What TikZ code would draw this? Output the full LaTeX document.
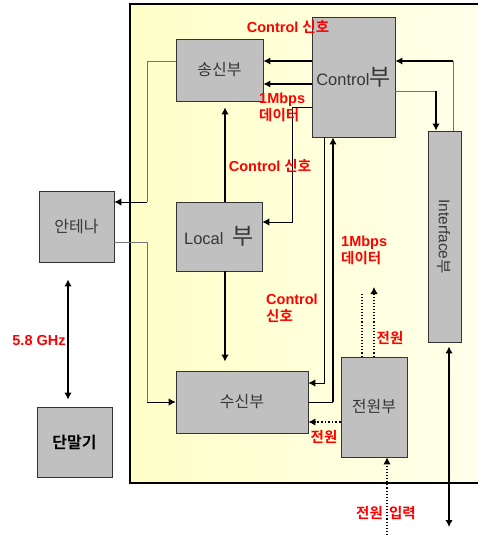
\documentclass[tikz,border=0pt]{standalone}
\usepackage{fontspec}
\setmainfont{Liberation Sans}
\newfontfamily\kr{Noto Sans CJK KR}[BoldFont={Noto Sans CJK KR Bold}]
\usetikzlibrary{arrows.meta, positioning}

\definecolor{boxgray}{RGB}{192,192,192}
\definecolor{panelyel}{RGB}{255,255,200}
\definecolor{panelwht}{RGB}{255,255,236}
\definecolor{labred}{RGB}{255,0,0}
\definecolor{txtgray}{RGB}{55,55,55}

\tikzset{
  blk/.style={draw=black!80, line width=0.8pt, fill=boxgray, text=txtgray,
    inner sep=0pt, font=\fontsize{16}{18}\selectfont},
  lab/.style={text=labred, font=\bfseries\fontsize{14.5}{17}\selectfont,
    align=left, inner sep=0pt},
  big/.style={->, line width=1.8pt},
  mid/.style={->, line width=1.3pt},
  fine/.style={->, line width=0.9pt},
  grayline/.style={draw=black!55, line width=0.9pt},
  dotln/.style={dotted, line width=1.1pt},
}

\begin{document}
\begin{tikzpicture}[x=1pt, y=-1pt, >={Latex[length=7pt,width=7.5pt]}]
    \useasboundingbox (0,0) rectangle (478,535);

    % =================================================================
    % 1. NEN VANG CUA KHOI THIET BI
    % =================================================================
    \shade[left color=panelyel, right color=panelwht] (130,4) rectangle (490,483);
    \draw[line width=2pt] (490,4) -- (130,4) -- (130,483) -- (490,483);

    % =================================================================
    % 2. CAC KHOI
    % =================================================================
    \node[blk, minimum width=87, minimum height=62] (tx) at (219.5,70) {\kr 송신부};
    \node[blk, minimum width=83, minimum height=120] (ctrl) at (353.5,77)
        {\fontsize{16.5}{17}\selectfont Control{\kr\fontsize{23}{23}\selectfont 부}};
    \node[blk, minimum width=33, minimum height=211] (iface) at (444.5,236.5)
        {\rotatebox{-90}{\fontsize{15.5}{17}\selectfont Interface{\kr 부}}};
    \node[blk, minimum width=86, minimum height=69] (local) at (219,236.5)
        {\fontsize{16.5}{17}\selectfont Local\ \ {\kr\fontsize{23}{23}\selectfont 부}};
    \node[blk, minimum width=132, minimum height=62] (rx) at (242,402) {\kr 수신부};
    \node[blk, minimum width=66, minimum height=100] (pwr) at (374,407) {\kr 전원부};
    \node[blk, minimum width=75, minimum height=71] (ant) at (76.5,226.5) {\kr 안테나};
    \node[blk, minimum width=75, minimum height=70, text=black] (term) at (74.5,442)
        {\kr\bfseries 단말기};

    % =================================================================
    % 3. TOA DO PHU (HANG VA COT)
    % =================================================================
    \coordinate (yTx1) at (0,61);
    \coordinate (yTx2) at (0,84);
    \coordinate (yIf) at (0,91);
    \coordinate (yLo) at (0,107);
    \coordinate (yAnt) at (0,202);
    \coordinate (yLoIn) at (0,222);
    \coordinate (yAntIn) at (0,242);
    \coordinate (yPwTop) at (0,292);
    \coordinate (yPwTip) at (0,287);
    \coordinate (yRxC) at (0,383);
    \coordinate (yRxD) at (0,402);
    \coordinate (yPw) at (0,422);
    \coordinate (yIO) at (0,527);
    \coordinate (yBot) at (0,535);

    \coordinate (xAir) at (68,0);
    \coordinate (xLeft) at (147,0);
    \coordinate (xMid) at (225,0);
    \coordinate (xLo) at (292,0);
    \coordinate (xRxC) at (324,0);
    \coordinate (xRxD) at (333,0);
    \coordinate (xPw1) at (362,0);
    \coordinate (xPw2) at (374,0);
    \coordinate (xPwIn) at (387,0);
    \coordinate (xIfIn) at (436,0);
    \coordinate (xIO) at (449,0);
    \coordinate (xIfOut) at (453,0);

    % =================================================================
    % 4. DUONG NOI
    % =================================================================
    % Control -> truyen
    \draw[big] (ctrl.west |- yTx1) -- (tx.east |- yTx1);
    \draw[big] (ctrl.west |- yTx2) -- (tx.east |- yTx2);

    % Interface <-> Control
    \draw[grayline] (iface.north -| xIfOut) -- (xIfOut |- yTx1);
    \draw[big] (xIfOut |- yTx1) -- (ctrl.east |- yTx1);
    \draw[grayline] (ctrl.east |- yIf) -- (xIfIn |- yIf);
    \draw[mid] (xIfIn |- yIf) -- (iface.north -| xIfIn);

    % truyen -> anten, anten -> thu
    \draw[grayline] (tx.west |- yTx1) -| (xLeft |- yAnt);
    \draw[fine] (xLeft |- yAnt) -- (ant.east |- yAnt);
    \draw[grayline] (ant.east |- yAntIn) -| (xLeft |- yRxD);
    \draw[fine] (xLeft |- yRxD) -- (rx.west |- yRxD);

    % Local
    \draw[mid, shorten >=6pt] (local.north -| xMid) -- (tx.south -| xMid);
    \draw[mid, shorten >=9pt] (local.south -| xMid) -- (rx.north -| xMid);
    \draw[fine] (ctrl.west |- yLo) -| (xLo |- yLoIn) -- (local.east |- yLoIn);

    % Control <-> thu
    \draw[fine] (ctrl.south -| xRxC) |- (rx.east |- yRxC);
    \draw[line width=0.9pt] (rx.east |- yRxD) -- (xRxD |- yRxD);
    \draw[big] (xRxD |- yRxD) -- (ctrl.south -| xRxD);

    % nguon
    \draw[dotln, line width=1.6pt, ->] (pwr.west |- yPw) -- (rx.east |- yPw);
    \draw[dotln] (pwr.north -| xPw1) -- (xPw1 |- yPwTop);
    \draw[dotln, ->] (pwr.north -| xPw2) -- (xPw2 |- yPwTip);
    \draw[dotln, ->] (xPwIn |- yBot) -- (pwr.south -| xPwIn);

    % Interface ra ngoai, anten <-> dau cuoi
    \draw[big, <->, shorten <=4pt] (iface.south -| xIO) -- (xIO |- yIO);
    \draw[big, <->, shorten <=17pt, shorten >=7pt] (ant.south -| xAir) -- (term.north -| xAir);

    % =================================================================
    % 5. NHAN
    % =================================================================
    \node[lab] (lCtl1) at (288,27) {Control {\kr 신호}};
    \node[lab, anchor=west] (lDat1) at (259,107) {1Mbps\\{\kr 데이터}};
    \node[lab] (lCtl2) at (270,166) {Control {\kr 신호}};
    \node[lab, anchor=west] (lDat2) at (341,250) {1Mbps\\{\kr 데이터}};
    \node[lab, anchor=west] (lCtl3) at (266,308) {Control\\{\kr 신호}};
    \node[lab] (lPw1) at (390,338) {\kr 전원};
    \node[lab] (lPw2) at (324,437) {\kr 전원};
    \node[lab] (lPwIn) at (386,513) {\kr 전원\hspace{3pt} 입력};
    \node[lab] (lRf) at (39,341) {5.8 GHz};

\end{tikzpicture}
\end{document}
